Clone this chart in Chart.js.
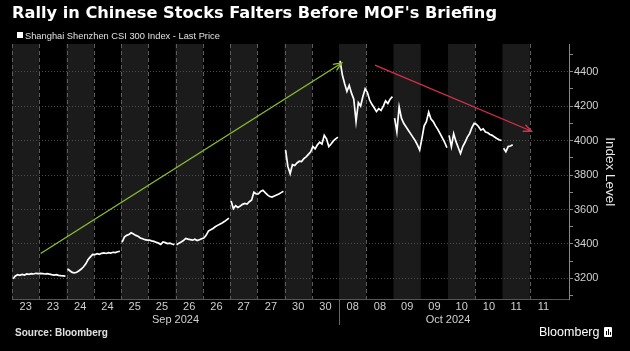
<!DOCTYPE html>
<html>
<head>
<meta charset="utf-8">
<script src="https://cdn.jsdelivr.net/npm/chart.js@4/dist/chart.umd.min.js"></script>
<style>
  html, body { margin: 0; padding: 0; background: #000; }
  #wrap { position: relative; width: 630px; height: 351px; overflow: hidden;
          font-family: "Liberation Sans", Arial, sans-serif; color: #fff; }
  #chart { position: absolute; left: 0; top: 0; }
  .title { position: absolute; left: 12px; top: 4px; font-family: "DejaVu Sans", sans-serif;
           font-size: 16.2px; line-height: 17px; font-weight: bold; white-space: nowrap; }
  .swatch { position: absolute; left: 17px; top: 32px; width: 6px; height: 6px; background: #fff; }
  .legend { position: absolute; left: 25px; top: 31px; font-size: 9.3px; line-height: 10px;
            color: #e0e0e0; white-space: nowrap; }
  .source { position: absolute; left: 15px; top: 328px; font-size: 10px; line-height: 10px;
            font-weight: bold; color: #e0e0e0; white-space: nowrap; }
  .brand { position: absolute; left: 539px; top: 326px; font-size: 12.5px; line-height: 13px; white-space: nowrap; }
  .logo { position: absolute; left: 604px; top: 327px; width: 8px; height: 10px; background: #fff; border-radius: 1px; }
  .logo b { position: absolute; bottom: 2px; width: 1px; background: #000; }
</style>
</head>
<body>
<div id="wrap">
  <canvas id="chart" width="630" height="351"></canvas>
  <div class="title">Rally in Chinese Stocks Falters Before MOF's Briefing</div>
  <div class="swatch"></div>
  <div class="legend">Shanghai Shenzhen CSI 300 Index - Last Price</div>
  <div class="source">Source: Bloomberg</div>
  <div class="brand">Bloomberg</div>
  <div class="logo"><b style="left:2px;height:4px"></b><b style="left:4px;height:6px"></b><b style="left:6px;height:3px"></b></div>
</div>
<script>
// one label per half-day session (morning / afternoon)
const sessionLabels = ['23', '23', '24', '24', '25', '25', '26', '26', '27', '27',
                       '30', '30', '08', '08', '09', '09', '10', '10', '11', '11'];
const monthLabels = ['Sep 2024', 'Oct 2024'];
const monthFirstSession = [0, 12];
const yTicks = [3200, 3400, 3600, 3800, 4000, 4200, 4400];

// CSI 300 intraday prices
const sep23am = [3198, 3215, 3222, 3218, 3224, 3220, 3226, 3224, 3228, 3226, 3230, 3228];
const sep23pm = [3230, 3228, 3226, 3228, 3225, 3222, 3220, 3222, 3218, 3216, 3215, 3214];
const sep24am = [3255, 3245, 3235, 3232, 3236, 3245, 3255, 3268, 3285, 3310, 3325, 3340];
const sep24pm = [3338, 3344, 3340, 3346, 3348, 3345, 3350, 3347, 3352, 3350, 3355, 3358];
const sep25am = [3410, 3440, 3450, 3455, 3465, 3458, 3450, 3445, 3435, 3430, 3425, 3422];
const sep25pm = [3422, 3418, 3415, 3410, 3405, 3398, 3412, 3408, 3402, 3405, 3400, 3396];
const sep26am = [3395, 3405, 3412, 3420, 3432, 3428, 3425, 3422, 3428, 3420, 3425, 3430];
const sep26pm = [3435, 3450, 3475, 3482, 3490, 3500, 3508, 3515, 3522, 3530, 3540, 3550];
const sep27am = [3650, 3605, 3622, 3612, 3620, 3630, 3635, 3632, 3645, 3655, 3700, 3690];
const sep27pm = [3690, 3705, 3712, 3698, 3685, 3675, 3672, 3678, 3684, 3690, 3698, 3706];
const sep30am = [3945, 3850, 3808, 3860, 3855, 3870, 3880, 3878, 3895, 3905, 3920, 3935];
const sep30pm = [3965, 3952, 3975, 3990, 3980, 4030, 4010, 3965, 3980, 3998, 4010, 4020];
const oct08am = [4462, 4380, 4330, 4285, 4320, 4275, 4240, 4110, 4220, 4200, 4255, 4300];
const oct08pm = [4280, 4235, 4210, 4190, 4168, 4185, 4175, 4200, 4230, 4215, 4240, 4255];
const oct09am = [4130, 4050, 4195, 4130, 4100, 4080, 4060, 4040, 4020, 4000, 3975, 3945];
const oct09pm = [4010, 4085, 4110, 4165, 4125, 4110, 4085, 4065, 4040, 4015, 3990, 3958];
const oct10am = [4030, 3965, 4040, 3995, 3960, 3925, 3965, 3990, 4020, 4040, 4075, 4100];
const oct10pm = [4095, 4080, 4060, 4068, 4050, 4045, 4035, 4030, 4020, 4012, 4005, 4000];
const oct11am = [3955, 3935, 3965, 3968, 3975];
const oct11pm = [];

const sessionPrices = [sep23am, sep23pm, sep24am, sep24pm, sep25am, sep25pm, sep26am, sep26pm,
                       sep27am, sep27pm, sep30am, sep30pm, oct08am, oct08pm, oct09am, oct09pm,
                       oct10am, oct10pm, oct11am, oct11pm];

// hand-drawn trend arrows, in (session, price) units
const rallyArrow = [[1.05, 3345], [12.1, 4450]];
const falterArrow = [[13.32, 4438], [19.07, 4054]];

// sessions whose left edge carries a dashed divider
const dashedEdges = [0, 1, 2, 3, 4, 5, 6, 7, 8, 9, 10, 11, 13, 17, 19];

const STEP = 0.92 / 11;
const points = [];
sessionPrices.forEach((prices, i) => {
  // overnight gap: break the line between trading days
  if (i > 0 && sessionLabels[i] !== sessionLabels[i - 1]) points.push({ x: i, y: null });
  prices.forEach((p, j) => points.push({ x: i + 0.04 + j * STEP, y: p }));
});

const FONT = '"Liberation Sans", Arial, sans-serif';

const backdrop = {
  id: 'backdrop',
  beforeDraw(chart) {
    const { ctx, chartArea: a, scales: { x } } = chart;
    ctx.save();
    ctx.fillStyle = '#1b1b1b';
    sessionLabels.forEach((_, i) => {
      if (i % 2) return;
      const l = x.getPixelForValue(i), r = x.getPixelForValue(i + 1);
      ctx.fillRect(l, a.top, r - l, a.bottom - a.top);
    });
    ctx.strokeStyle = '#5c5c5c';
    ctx.lineWidth = 1;
    ctx.setLineDash([4, 3]);
    dashedEdges.forEach((i) => {
      const px = Math.round(x.getPixelForValue(i)) + 0.5;
      ctx.beginPath();
      ctx.moveTo(px, a.top);
      ctx.lineTo(px, a.bottom);
      ctx.stroke();
    });
    ctx.restore();
  },
  afterDraw(chart) {
    const { ctx, chartArea: a, scales: { x } } = chart;
    ctx.save();
    // month separator below the axis
    const sep = Math.round(x.getPixelForValue(monthFirstSession[1])) + 0.5;
    ctx.strokeStyle = '#666';
    ctx.beginPath();
    ctx.moveTo(sep, a.bottom);
    ctx.lineTo(sep, 325);
    ctx.stroke();
    ctx.fillStyle = '#d0d0d0';
    ctx.font = '11px ' + FONT;
    ctx.textAlign = 'center';
    ctx.textBaseline = 'middle';
    monthLabels.forEach((m, k) => {
      const from = monthFirstSession[k];
      const to = k + 1 < monthFirstSession.length ? monthFirstSession[k + 1] : sessionLabels.length;
      ctx.fillText(m, x.getPixelForValue((from + to) / 2), 320);
    });
    ctx.restore();
  },
};

function drawArrow(ctx, x1, y1, x2, y2, color) {
  const ang = Math.atan2(y2 - y1, x2 - x1);
  const head = 9;
  ctx.strokeStyle = color;
  ctx.lineWidth = 1.3;
  ctx.beginPath();
  ctx.moveTo(x1, y1);
  ctx.lineTo(x2, y2);
  ctx.moveTo(x2 - head * Math.cos(ang - 0.4), y2 - head * Math.sin(ang - 0.4));
  ctx.lineTo(x2, y2);
  ctx.lineTo(x2 - head * Math.cos(ang + 0.4), y2 - head * Math.sin(ang + 0.4));
  ctx.stroke();
}

const arrows = {
  id: 'arrows',
  afterDatasetsDraw(chart) {
    const { ctx, scales: { x, y } } = chart;
    ctx.save();
    const pix = ([sx, v]) => [x.getPixelForValue(sx), y.getPixelForValue(v)];
    const [g1, g2] = rallyArrow.map(pix);
    drawArrow(ctx, g1[0], g1[1], g2[0], g2[1], '#8fbf26');
    const [r1, r2] = falterArrow.map(pix);
    drawArrow(ctx, r1[0], r1[1], r2[0], r2[1], '#d92f4c');
    ctx.restore();
  },
};

new Chart(document.getElementById('chart'), {
  type: 'line',
  data: {
    datasets: [{
      data: points,
      borderColor: '#ffffff',
      borderWidth: 1.7,
      pointRadius: 0,
      tension: 0,
      spanGaps: false,
    }],
  },
  options: {
    responsive: false,
    devicePixelRatio: 1,
    animation: false,
    layout: { padding: { left: 12, top: 44, right: 0, bottom: 0 } },
    plugins: { legend: { display: false }, tooltip: { enabled: false } },
    scales: {
      x: {
        type: 'linear',
        min: 0,
        max: 20.44,
        grid: { display: false, drawTicks: false, tickLength: 0 },
        border: { color: '#555' },
        ticks: {
          color: '#d0d0d0', font: { size: 11, family: FONT }, padding: 1,
          maxRotation: 0, autoSkip: false,
          callback: (v) => sessionLabels[Math.floor(v)],
        },
        afterBuildTicks: (s) => { s.ticks = sessionLabels.map((_, i) => ({ value: i + 0.5 })); },
        afterFit: (s) => { s.height = 51.5; },
      },
      y: {
        position: 'right',
        min: 3078,
        max: 4560,
        ticks: {
          stepSize: 100, includeBounds: false, autoSkip: false,
          color: '#d0d0d0', font: { size: 11, family: FONT }, padding: 1,
          callback: (v) => (yTicks.includes(v) ? String(v) : ''),
        },
        grid: {
          color: (c) => (c.tick && yTicks.includes(c.tick.value) ? '#4a4a4a' : 'transparent'),
          tickColor: '#888', tickLength: 4,
        },
        border: { color: '#888', dash: [1, 2] },
        title: {
          display: true, text: 'Index Level', color: '#e8e8e8',
          font: { size: 13.5, family: FONT }, padding: { top: 12, bottom: 0 },
        },
        afterFit: (s) => { s.width = 61; },
      },
    },
  },
  plugins: [backdrop, arrows],
});
</script>
</body>
</html>
